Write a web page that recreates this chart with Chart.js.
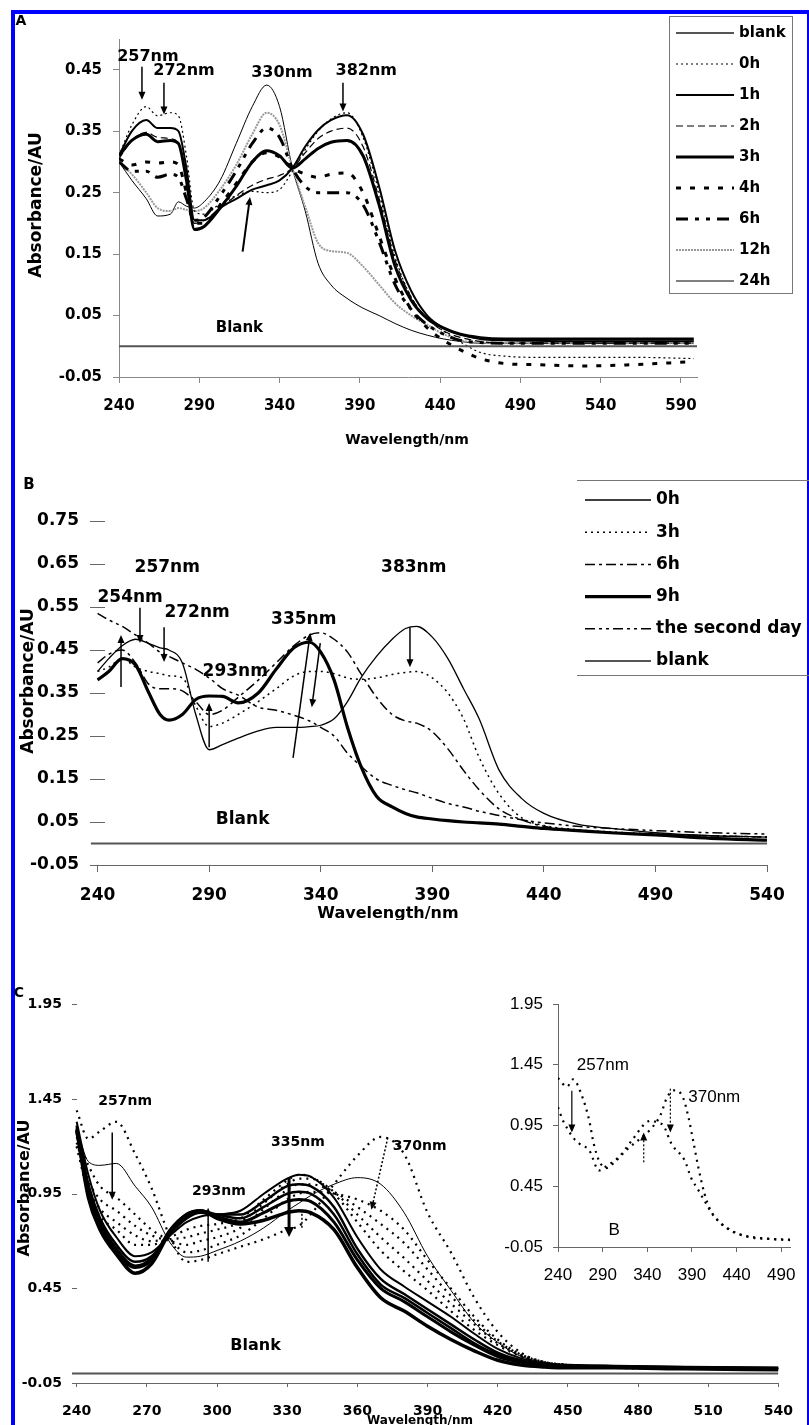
<!DOCTYPE html>
<html lang="en">
<head>
<meta charset="utf-8">
<title>Absorbance spectra A / B / C</title>
<script src="https://cdn.jsdelivr.net/npm/chart.js"></script>
<style>
    body { margin: 0; background: #fff; }
    #page { position: relative; width: 809px; height: 1425px; overflow: hidden; }
    canvas { position: absolute; }
    #frame {
        position: absolute; left: 11px; top: 10px; width: 798px; height: 1440px;
        box-sizing: border-box;
        border-left: 4px solid #0000ff; border-top: 4px solid #0000ff; border-right: 2px solid #0000ff;
    }
</style>
</head>
<body>
<div id="page">
    <div id="frame"></div>
    <canvas id="chartA" width="809" height="450" style="left:0;top:0"></canvas>
    <canvas id="chartB" width="809" height="470" style="left:0;top:450px"></canvas>
    <canvas id="chartC" width="809" height="505" style="left:0;top:920px"></canvas>
    <canvas id="chartInset" width="329" height="320" style="left:480px;top:980px"></canvas>
</div>

<script>
// ---------- panel A data ----------
const wlA = [240, 248, 257, 264, 272, 277, 282, 287, 293, 303, 313, 323, 332, 340, 348, 356, 364, 372, 382, 392, 402, 412, 422, 432, 442, 452, 465, 480, 500, 530, 560, 598];
const a0h  = [0.31, 0.36, 0.39, 0.375, 0.38, 0.375, 0.31, 0.22, 0.215, 0.232, 0.245, 0.252, 0.25, 0.255, 0.285, 0.32, 0.35, 0.37, 0.38, 0.34, 0.25, 0.145, 0.08, 0.045, 0.025, 0.008, -0.01, -0.016, -0.018, -0.018, -0.018, -0.02];
const a1h  = [0.31, 0.35, 0.368, 0.355, 0.355, 0.35, 0.29, 0.205, 0.205, 0.225, 0.24, 0.255, 0.262, 0.27, 0.29, 0.325, 0.352, 0.368, 0.376, 0.345, 0.26, 0.155, 0.09, 0.05, 0.03, 0.02, 0.012, 0.01, 0.009, 0.008, 0.008, 0.008];
const a2h  = [0.305, 0.335, 0.348, 0.34, 0.338, 0.33, 0.27, 0.2, 0.205, 0.225, 0.245, 0.262, 0.272, 0.278, 0.29, 0.315, 0.338, 0.35, 0.355, 0.325, 0.24, 0.14, 0.08, 0.045, 0.025, 0.015, 0.008, 0.005, 0.005, 0.005, 0.005, 0.005];
const a3h  = [0.31, 0.335, 0.345, 0.333, 0.335, 0.33, 0.27, 0.19, 0.195, 0.225, 0.26, 0.3, 0.318, 0.31, 0.29, 0.305, 0.322, 0.332, 0.335, 0.31, 0.23, 0.13, 0.075, 0.045, 0.03, 0.02, 0.014, 0.012, 0.012, 0.012, 0.012, 0.012];
const a4h  = [0.305, 0.295, 0.3, 0.298, 0.3, 0.295, 0.25, 0.2, 0.2, 0.23, 0.265, 0.3, 0.315, 0.308, 0.29, 0.28, 0.275, 0.28, 0.282, 0.25, 0.18, 0.11, 0.06, 0.03, 0.01, -0.005, -0.02, -0.028, -0.03, -0.032, -0.03, -0.025];
const a6h  = [0.3, 0.285, 0.285, 0.275, 0.28, 0.275, 0.24, 0.205, 0.21, 0.245, 0.285, 0.33, 0.355, 0.34, 0.29, 0.26, 0.25, 0.25, 0.25, 0.23, 0.17, 0.1, 0.06, 0.035, 0.02, 0.01, 0.006, 0.005, 0.005, 0.005, 0.005, 0.005];
const a12h = [0.3, 0.28, 0.25, 0.225, 0.22, 0.225, 0.222, 0.22, 0.225, 0.255, 0.295, 0.345, 0.38, 0.36, 0.29, 0.227, 0.168, 0.155, 0.152, 0.13, 0.1, 0.07, 0.05, 0.035, 0.02, 0.01, 0.006, 0.005, 0.005, 0.005, 0.005, 0.005];
const a24h = [0.3, 0.27, 0.24, 0.212, 0.215, 0.235, 0.228, 0.225, 0.235, 0.27, 0.33, 0.39, 0.425, 0.39, 0.29, 0.22, 0.135, 0.1, 0.078, 0.062, 0.05, 0.037, 0.026, 0.018, 0.012, 0.008, 0.005, 0.005, 0.005, 0.005, 0.005, 0.005];
const blankAx = [240, 600];
const blankAy = [0, 0];
const xTicksA = [240, 290, 340, 390, 440, 490, 540, 590];
const yTicksA = [-0.05, 0.05, 0.15, 0.25, 0.35, 0.45];

// ---------- panel B data ----------
const wlB = [240, 245, 251, 257, 263, 268, 272, 278, 284, 290, 296, 303, 312, 320, 328, 335, 340, 346, 352, 358, 365, 372, 378, 383, 390, 397, 404, 411, 420, 430, 440, 455, 470, 490, 515, 540];
const b0h = [0.4, 0.43, 0.46, 0.475, 0.465, 0.455, 0.45, 0.42, 0.3, 0.218, 0.23, 0.245, 0.262, 0.27, 0.27, 0.272, 0.275, 0.29, 0.33, 0.385, 0.435, 0.475, 0.5, 0.505, 0.48, 0.43, 0.36, 0.29, 0.17, 0.105, 0.07, 0.045, 0.035, 0.025, 0.018, 0.015];
const b3h = [0.4, 0.41, 0.43, 0.41, 0.4, 0.395, 0.39, 0.385, 0.32, 0.272, 0.28, 0.3, 0.33, 0.36, 0.39, 0.4, 0.4, 0.395, 0.385, 0.382, 0.385, 0.393, 0.398, 0.4, 0.385, 0.35, 0.29, 0.2, 0.115, 0.06, 0.042, 0.032, 0.027, 0.022, 0.018, 0.015];
const b6h = [0.42, 0.44, 0.45, 0.42, 0.37, 0.36, 0.36, 0.355, 0.33, 0.3, 0.31, 0.34, 0.38, 0.42, 0.46, 0.485, 0.49, 0.475, 0.445, 0.395, 0.34, 0.3, 0.285, 0.28, 0.26, 0.22, 0.17, 0.125, 0.08, 0.055, 0.04, 0.03, 0.025, 0.02, 0.018, 0.015];
const b9h = [0.38, 0.4, 0.43, 0.415, 0.35, 0.3, 0.287, 0.3, 0.335, 0.343, 0.342, 0.327, 0.35, 0.405, 0.455, 0.468, 0.445, 0.38, 0.27, 0.18, 0.11, 0.085, 0.07, 0.062, 0.057, 0.053, 0.05, 0.048, 0.045, 0.04, 0.035, 0.03, 0.025, 0.02, 0.012, 0.008];
const b2d = [0.535, 0.52, 0.505, 0.485, 0.465, 0.445, 0.435, 0.42, 0.405, 0.385, 0.36, 0.345, 0.317, 0.31, 0.298, 0.285, 0.27, 0.25, 0.21, 0.18, 0.15, 0.135, 0.125, 0.118, 0.105, 0.093, 0.085, 0.075, 0.065, 0.055, 0.048, 0.04, 0.035, 0.03, 0.025, 0.022];
const blankBx = [237, 540];
const blankBy = [0, 0];
const xTicksB = [240, 290, 340, 390, 440, 490, 540];
const yTicksB = [-0.05, 0.05, 0.15, 0.25, 0.35, 0.45, 0.55, 0.65, 0.75];

// ---------- panel C data ----------
const wlC = [240, 245, 250, 257, 265, 272, 280, 287, 293, 300, 310, 320, 330, 335, 340, 350, 360, 370, 380, 390, 400, 410, 420, 430, 440, 450, 470, 500, 540];
const cD1 = [1.39, 1.24, 1.28, 1.33, 1.16, 0.98, 0.72, 0.59, 0.6, 0.63, 0.67, 0.71, 0.76, 0.78, 0.84, 1.0, 1.15, 1.25, 1.16, 0.85, 0.64, 0.4, 0.22, 0.11, 0.06, 0.045, 0.03, 0.025, 0.02];
const cT1 = [1.3, 1.12, 1.1, 1.11, 0.99, 0.88, 0.69, 0.615, 0.62, 0.65, 0.7, 0.77, 0.86, 0.9, 0.94, 1.0, 1.035, 1.0, 0.85, 0.62, 0.44, 0.27, 0.165, 0.09, 0.06, 0.045, 0.035, 0.03, 0.025];
const cD2 = [1.25, 1.1, 0.99, 0.93, 0.84, 0.76, 0.7, 0.64, 0.65, 0.68, 0.73, 0.82, 0.92, 0.95, 0.96, 0.95, 0.92, 0.86, 0.76, 0.6, 0.45, 0.3, 0.18, 0.1, 0.06, 0.045, 0.035, 0.03, 0.025];
const cD3 = [1.22, 1.02, 0.92, 0.86, 0.78, 0.73, 0.7, 0.68, 0.7, 0.72, 0.77, 0.87, 0.97, 1.0, 1.0, 0.96, 0.88, 0.79, 0.69, 0.55, 0.41, 0.28, 0.17, 0.1, 0.06, 0.045, 0.035, 0.03, 0.025];
const cD4 = [1.2, 0.98, 0.87, 0.8, 0.73, 0.7, 0.71, 0.72, 0.74, 0.76, 0.8, 0.9, 1.0, 1.03, 1.03, 0.96, 0.84, 0.72, 0.61, 0.49, 0.37, 0.26, 0.16, 0.095, 0.06, 0.045, 0.035, 0.03, 0.025];
const cD5 = [1.2, 0.95, 0.83, 0.76, 0.68, 0.68, 0.72, 0.76, 0.78, 0.79, 0.82, 0.92, 1.02, 1.05, 1.04, 0.95, 0.8, 0.65, 0.54, 0.44, 0.33, 0.23, 0.15, 0.09, 0.055, 0.045, 0.035, 0.03, 0.025];
const cS1 = [1.33, 1.05, 0.86, 0.72, 0.62, 0.64, 0.73, 0.8, 0.83, 0.84, 0.86, 0.95, 1.03, 1.05, 1.04, 0.93, 0.72, 0.55, 0.46, 0.38, 0.3, 0.21, 0.13, 0.08, 0.055, 0.045, 0.04, 0.035, 0.03];
const cS2 = [1.31, 1.0, 0.82, 0.68, 0.59, 0.62, 0.74, 0.82, 0.85, 0.84, 0.84, 0.91, 0.99, 1.0, 0.99, 0.88, 0.66, 0.5, 0.42, 0.34, 0.26, 0.18, 0.11, 0.07, 0.05, 0.045, 0.04, 0.035, 0.03];
const cS3 = [1.3, 0.98, 0.8, 0.66, 0.57, 0.61, 0.75, 0.83, 0.86, 0.84, 0.82, 0.88, 0.95, 0.96, 0.95, 0.84, 0.63, 0.47, 0.4, 0.32, 0.24, 0.16, 0.1, 0.065, 0.05, 0.04, 0.035, 0.03, 0.028];
const cS4 = [1.28, 0.95, 0.78, 0.64, 0.56, 0.6, 0.76, 0.84, 0.86, 0.83, 0.8, 0.85, 0.91, 0.92, 0.91, 0.8, 0.6, 0.45, 0.38, 0.3, 0.22, 0.15, 0.09, 0.06, 0.045, 0.04, 0.035, 0.03, 0.025];
const cS5 = [1.29, 0.93, 0.76, 0.63, 0.53, 0.58, 0.75, 0.84, 0.86, 0.82, 0.79, 0.81, 0.85, 0.86, 0.85, 0.76, 0.56, 0.4, 0.33, 0.25, 0.18, 0.12, 0.07, 0.045, 0.035, 0.03, 0.03, 0.025, 0.02];
const blankCx = [238, 540];
const blankCy = [0, 0];
const xTicksC = [240, 270, 300, 330, 360, 390, 420, 450, 480, 510, 540];
const yTicksC = [-0.05, 0.45, 0.95, 1.45, 1.95];

// ---------- inset (C, "B") data ----------
const inWl1 = [240, 250, 257, 266, 275, 280, 286, 294, 305, 316, 330, 345, 355, 362, 371, 380, 386, 392, 397, 404, 411, 419, 430, 445, 460, 480, 500];
const inAb1 = [1.34, 1.27, 1.33, 1.21, 0.99, 0.8, 0.66, 0.6, 0.66, 0.745, 0.83, 0.93, 1.04, 1.18, 1.24, 1.18, 1.02, 0.8, 0.61, 0.39, 0.25, 0.17, 0.1, 0.05, 0.03, 0.015, 0.01];
const inWl2 = [240, 245, 250, 257, 264, 275, 286, 295, 308, 323, 338, 345, 352, 358, 367, 382, 389, 397, 404, 415, 433, 455, 480, 500];
const inAb2 = [1.1, 1.0, 0.93, 0.85, 0.8, 0.745, 0.58, 0.62, 0.69, 0.83, 0.97, 0.99, 0.97, 0.95, 0.8, 0.66, 0.52, 0.42, 0.33, 0.2, 0.09, 0.03, 0.015, 0.007];
const xTicksIn = [240, 290, 340, 390, 440, 490];
const yTicksIn = [-0.05, 0.45, 0.95, 1.45, 1.95];

Chart.defaults.font.family = "'DejaVu Sans', sans-serif";
Chart.defaults.color = '#000';

const pts = (xs, ys) => xs.map((x, i) => ({ x: x, y: ys[i] }));

function line(label, xs, ys, color, width, dash) {
    return {
        label: label, data: pts(xs, ys),
        borderColor: color, borderWidth: width, borderDash: dash,
        pointRadius: 0, fill: false, cubicInterpolationMode: 'monotone'
    };
}

// texts, arrows, legend and inside tick marks
const extras = {
    id: 'extras',
    afterDraw(chart, args, o) {
        const ctx = chart.ctx, xs = chart.scales.x, ys = chart.scales.y, area = chart.chartArea;
        ctx.save();
        if (o.innerTicks) {
            ctx.strokeStyle = '#666';
            ctx.lineWidth = 1;
            ys.ticks.forEach(t => {
                const py = Math.round(ys.getPixelForValue(t.value)) + 0.5;
                ctx.beginPath();
                ctx.moveTo(area.left, py);
                ctx.lineTo(area.left + o.innerTicks, py);
                ctx.stroke();
            });
        }
        (o.arrows || []).forEach(a => {
            const x1 = xs.getPixelForValue(a.x1), y1 = ys.getPixelForValue(a.y1);
            const x2 = xs.getPixelForValue(a.x2), y2 = ys.getPixelForValue(a.y2);
            const ang = Math.atan2(y2 - y1, x2 - x1);
            const hl = a.hl || 8, hw = a.hw || 3.5;
            ctx.strokeStyle = '#000';
            ctx.fillStyle = '#000';
            ctx.lineWidth = a.w || 1.5;
            ctx.setLineDash(a.dash || []);
            ctx.beginPath();
            ctx.moveTo(x1, y1);
            if (a.noHead) ctx.lineTo(x2, y2);
            else ctx.lineTo(x2 - Math.cos(ang) * hl * 0.7, y2 - Math.sin(ang) * hl * 0.7);
            ctx.stroke();
            ctx.setLineDash([]);
            if (!a.noHead) {
                const bx = x2 - Math.cos(ang) * hl, by = y2 - Math.sin(ang) * hl;
                ctx.beginPath();
                ctx.moveTo(x2, y2);
                ctx.lineTo(bx + Math.sin(ang) * hw, by - Math.cos(ang) * hw);
                ctx.lineTo(bx - Math.sin(ang) * hw, by + Math.cos(ang) * hw);
                ctx.closePath();
                ctx.fill();
            }
        });
        ctx.fillStyle = '#000';
        ctx.textAlign = 'center';
        ctx.textBaseline = 'middle';
        (o.texts || []).forEach(t => {
            ctx.font = t.font || o.font;
            ctx.fillText(t.t, xs.getPixelForValue(t.x), ys.getPixelForValue(t.y));
        });
        (o.labels || []).forEach(t => {
            ctx.save();
            ctx.translate(t.px, t.py);
            if (t.rot) ctx.rotate(t.rot);
            ctx.font = t.font;
            ctx.fillText(t.t, 0, 0);
            ctx.restore();
        });
        const L = o.legend;
        if (L) {
            ctx.strokeStyle = '#777';
            ctx.lineWidth = 1;
            if (L.box) ctx.strokeRect(L.box[0] + 0.5, L.box[1] + 0.5, L.box[2], L.box[3]);
            (L.rules || []).forEach(r => {
                ctx.beginPath();
                ctx.moveTo(r[0], r[2] + 0.5);
                ctx.lineTo(r[1], r[2] + 0.5);
                ctx.stroke();
            });
            chart.data.datasets.forEach((ds, i) => {
                const py = L.y0 + i * L.dy;
                ctx.strokeStyle = ds.borderColor;
                ctx.lineWidth = ds.borderWidth;
                ctx.setLineDash(ds.borderDash);
                ctx.beginPath();
                ctx.moveTo(L.x0, py);
                ctx.lineTo(L.x1, py);
                ctx.stroke();
                ctx.setLineDash([]);
                ctx.font = L.font;
                ctx.textAlign = 'left';
                ctx.fillText(ds.label, L.tx, py);
            });
        }
        ctx.restore();
    }
};
Chart.register(extras);

function xAxis(min, max, tickVals, fontOpt, pad, tl, height, color) {
    return {
        type: 'linear', min: min, max: max,
        afterBuildTicks: ax => { ax.ticks = tickVals.map(v => ({ value: v })); },
        afterFit: ax => { ax.height = height; },
        ticks: { font: fontOpt, padding: pad, maxRotation: 0, autoSkip: false, color: '#000', callback: v => String(v) },
        grid: { drawOnChartArea: false, drawTicks: true, tickLength: tl, color: color },
        border: { display: true, color: color }
    };
}

function yAxis(min, max, tickVals, fontOpt, pad, tl, width, color, showLine) {
    return {
        type: 'linear', min: min, max: max,
        afterBuildTicks: ax => { ax.ticks = tickVals.map(v => ({ value: v })); },
        afterFit: ax => { ax.width = width; },
        ticks: { font: fontOpt, padding: pad, color: '#000', callback: v => v.toFixed(2) },
        grid: { display: showLine, drawOnChartArea: false, drawTicks: showLine, tickLength: tl, color: color },
        border: { display: showLine, color: color }
    };
}

const baseOpts = {
    responsive: false, animation: false, events: [],
    plugins: { legend: { display: false }, tooltip: { enabled: false } }
};

const bold = "'DejaVu Sans', sans-serif";

// ---------- chart A ----------
new Chart(document.getElementById('chartA'), {
    type: 'line',
    data: {
        datasets: [
            line('blank', blankAx, blankAy, '#555', 2, []),
            line('0h', wlA, a0h, '#000', 1.2, [2, 3]),
            line('1h', wlA, a1h, '#000', 2, []),
            line('2h', wlA, a2h, '#000', 1.2, [7, 4]),
            line('3h', wlA, a3h, '#000', 3, []),
            line('4h', wlA, a4h, '#000', 3, [5, 9]),
            line('6h', wlA, a6h, '#000', 3, [12, 7, 4, 7, 4, 7]),
            line('12h', wlA, a12h, '#999', 2, [2, 1]),
            line('24h', wlA, a24h, '#000', 1, [])
        ]
    },
    options: Object.assign({}, baseOpts, {
        layout: { autoPadding: false, padding: { top: 39, right: 112, left: 0, bottom: 0 } },
        scales: {
            x: xAxis(240, 600, xTicksA, { size: 15, weight: 'bold' }, 14, 6, 73, '#888'),
            y: yAxis(-0.05, 0.5, yTicksA, { size: 15, weight: 'bold' }, 11, 6, 119, '#888', true)
        },
        plugins: Object.assign({}, baseOpts.plugins, {
            extras: {
                font: "bold 16px " + bold,
                texts: [
                    { t: '257nm', x: 258, y: 0.471 },
                    { t: '272nm', x: 280.5, y: 0.448 },
                    { t: '330nm', x: 341.5, y: 0.445 },
                    { t: '382nm', x: 394, y: 0.448 },
                    { t: 'Blank', x: 315, y: 0.03, font: "bold 15px " + bold }
                ],
                arrows: [
                    { x1: 254.3, y1: 0.455, x2: 254.3, y2: 0.401 },
                    { x1: 268, y1: 0.429, x2: 268, y2: 0.377 },
                    { x1: 379.5, y1: 0.429, x2: 379.5, y2: 0.382 },
                    { x1: 317, y1: 0.154, x2: 321.6, y2: 0.243, w: 2 }
                ],
                labels: [
                    { t: 'A', px: 21, py: 21, font: "bold 14px " + bold },
                    { t: 'Absorbance/AU', px: 37, py: 205, rot: -Math.PI / 2, font: "bold 17px " + bold },
                    { t: 'Wavelength/nm', px: 407, py: 440, font: "bold 14px " + bold }
                ],
                legend: { box: [669, 16, 123, 277], x0: 676, x1: 734, tx: 739, y0: 33, dy: 31, font: "bold 15px " + bold }
            }
        })
    })
});

// ---------- chart B ----------
new Chart(document.getElementById('chartB'), {
    type: 'line',
    data: {
        datasets: [
            line('0h', wlB, b0h, '#000', 1.3, []),
            line('3h', wlB, b3h, '#000', 1.5, [2, 4]),
            line('6h', wlB, b6h, '#000', 1.5, [10, 4, 3, 4]),
            line('9h', wlB, b9h, '#000', 3.2, []),
            line('the second day', wlB, b2d, '#000', 1.5, [10, 4, 3, 4, 3, 4]),
            line('blank', blankBx, blankBy, '#555', 2, [])
        ]
    },
    options: Object.assign({}, baseOpts, {
        layout: { autoPadding: false, padding: { top: 28, right: 42, left: 0, bottom: 0 } },
        scales: {
            x: xAxis(236.6, 540, xTicksB, { size: 17, weight: 'bold' }, 13, 7, 55, '#666'),
            y: yAxis(-0.05, 0.85, yTicksB, { size: 17, weight: 'bold' }, 11, 0, 90, '#666', false)
        },
        plugins: Object.assign({}, baseOpts.plugins, {
            extras: {
                innerTicks: 15,
                font: "bold 17px " + bold,
                texts: [
                    { t: '257nm', x: 271.2, y: 0.641 },
                    { t: '383nm', x: 381.7, y: 0.641 },
                    { t: '254nm', x: 254.6, y: 0.571 },
                    { t: '272nm', x: 284.6, y: 0.536 },
                    { t: '335nm', x: 332.4, y: 0.52 },
                    { t: '293nm', x: 301.7, y: 0.399 },
                    { t: 'Blank', x: 305, y: 0.055 }
                ],
                arrows: [
                    { x1: 259, y1: 0.548, x2: 259, y2: 0.466 },
                    { x1: 269.8, y1: 0.503, x2: 269.8, y2: 0.422 },
                    { x1: 250.5, y1: 0.364, x2: 250.5, y2: 0.485 },
                    { x1: 290, y1: 0.224, x2: 290, y2: 0.327 },
                    { x1: 327.6, y1: 0.199, x2: 335.3, y2: 0.49 },
                    { x1: 339.8, y1: 0.466, x2: 336, y2: 0.317 },
                    { x1: 380, y1: 0.503, x2: 380, y2: 0.41 }
                ],
                labels: [
                    { t: 'B', px: 29, py: 35, font: "bold 15px " + bold },
                    { t: 'Absorbance/AU', px: 29, py: 231, rot: -Math.PI / 2, font: "bold 17px " + bold },
                    { t: 'Wavelength/nm', px: 388, py: 464, font: "bold 16px " + bold }
                ],
                legend: { rules: [[577, 809, 30], [577, 809, 225]], x0: 585, x1: 651, tx: 656, y0: 50, dy: 32.2, font: "bold 17px " + bold }
            }
        })
    })
});

// ---------- chart C ----------
const dotC = [2, 5];
new Chart(document.getElementById('chartC'), {
    type: 'line',
    data: {
        datasets: [
            line('scan 1', wlC, cD1, '#000', 2.2, dotC),
            line('scan 2', wlC, cT1, '#000', 1, []),
            line('scan 3', wlC, cD2, '#000', 2.2, dotC),
            line('scan 4', wlC, cD3, '#000', 2.2, dotC),
            line('scan 5', wlC, cD4, '#000', 2.2, dotC),
            line('scan 6', wlC, cD5, '#000', 2.2, dotC),
            line('scan 7', wlC, cS1, '#000', 2, []),
            line('scan 8', wlC, cS2, '#000', 2.5, []),
            line('scan 9', wlC, cS3, '#000', 2.5, []),
            line('scan 10', wlC, cS4, '#000', 3, []),
            line('scan 11', wlC, cS5, '#000', 3.5, []),
            line('blank', blankCx, blankCy, '#555', 2, [])
        ]
    },
    options: Object.assign({}, baseOpts, {
        layout: { autoPadding: false, padding: { top: 75, right: 22, left: 0, bottom: 0 } },
        scales: {
            x: xAxis(238, 540, xTicksC, { size: 14, weight: 'bold' }, 16, 4, 42, '#666'),
            y: yAxis(-0.05, 2.0, yTicksC, { size: 14, weight: 'bold' }, 10, 0, 72, '#666', false)
        },
        plugins: Object.assign({}, baseOpts.plugins, {
            extras: {
                innerTicks: 5,
                font: "bold 14px " + bold,
                texts: [
                    { t: '257nm', x: 260.7, y: 1.437 },
                    { t: '335nm', x: 334.6, y: 1.22 },
                    { t: '293nm', x: 300.8, y: 0.96 },
                    { t: '370nm', x: 386.6, y: 1.199 },
                    { t: 'Blank', x: 316.5, y: 0.146, font: "bold 16px " + bold }
                ],
                arrows: [
                    { x1: 255.2, y1: 1.273, x2: 255.2, y2: 0.918 },
                    { x1: 296.2, y1: 0.59, x2: 296.2, y2: 0.876 },
                    { x1: 330.8, y1: 1.035, x2: 330.8, y2: 0.722, w: 3, hw: 5, hl: 10 },
                    { x1: 336.3, y1: 0.865, x2: 336.3, y2: 0.77, dash: [2, 2], noHead: true },
                    { x1: 373, y1: 1.246, x2: 366, y2: 0.865, dash: [2, 2] }
                ],
                labels: [
                    { t: 'C', px: 19, py: 73, font: "bold 14px " + bold },
                    { t: 'Absorbance/AU', px: 25, py: 268, rot: -Math.PI / 2, font: "bold 16px " + bold },
                    { t: 'Wavelength/nm', px: 420, py: 501, font: "bold 12px " + bold }
                ]
            }
        })
    })
});

// ---------- inset ----------
const regular = "'Liberation Sans', Arial, sans-serif";
new Chart(document.getElementById('chartInset'), {
    type: 'line',
    data: {
        datasets: [
            line('scan a', inWl1, inAb1, '#000', 2.2, [2, 5]),
            line('scan b', inWl2, inAb2, '#000', 2.2, [2, 5])
        ]
    },
    options: Object.assign({}, baseOpts, {
        layout: { autoPadding: false, padding: { top: 24, right: 14, left: 0, bottom: 0 } },
        scales: {
            x: xAxis(240, 500, xTicksIn, { size: 17, family: regular }, 13, 5, 53, '#666'),
            y: yAxis(-0.05, 1.95, yTicksIn, { size: 17, family: regular }, 10, 5, 78, '#666', true)
        },
        plugins: Object.assign({}, baseOpts.plugins, {
            extras: {
                font: "17px " + regular,
                texts: [
                    { t: '257nm', x: 290.2, y: 1.442 },
                    { t: '370nm', x: 415, y: 1.18 },
                    { t: 'B', x: 303, y: 0.089 }
                ],
                arrows: [
                    { x1: 255.5, y1: 1.237, x2: 255.5, y2: 0.893, w: 1.2 },
                    { x1: 336, y1: 0.647, x2: 336, y2: 0.893, w: 1.2, dash: [2, 2] },
                    { x1: 365.8, y1: 1.253, x2: 365.8, y2: 0.893, w: 1.2, dash: [2, 2] }
                ]
            }
        })
    })
});
</script>
</body>
</html>
